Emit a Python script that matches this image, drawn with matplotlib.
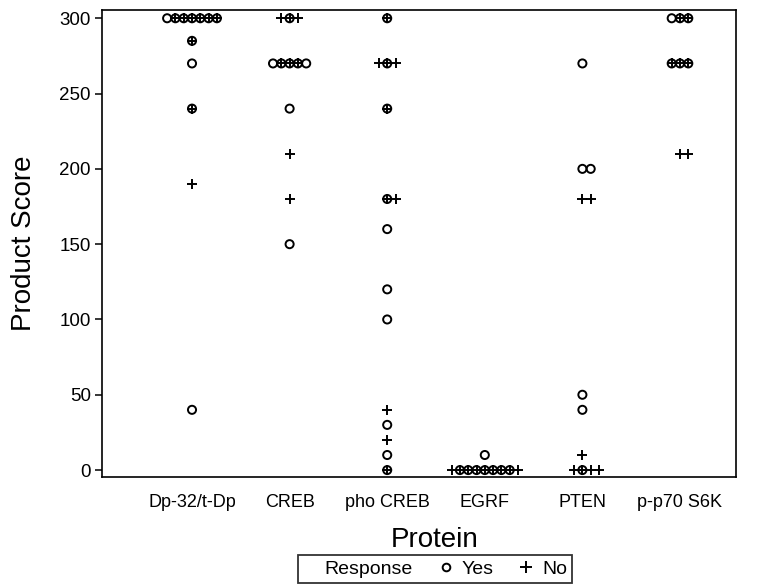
import matplotlib.pyplot as plt
from matplotlib.lines import Line2D

plt.rcParams['font.family'] = ['Liberation Sans', 'DejaVu Sans']

proteins = ["Dp-32/t-Dp", "CREB", "pho CREB", "EGRF", "PTEN", "p-p70 S6K"]

# product scores of the "Yes" responders, per protein
yes_dp32 = [300, 300, 300, 300, 300, 300, 300, 285, 270, 240, 40]
yes_creb = [300, 270, 270, 270, 270, 270, 240, 150]
yes_phocreb = [300, 270, 240, 180, 160, 120, 100, 30, 10, 0]
yes_egrf = [10, 0, 0, 0, 0, 0, 0, 0]
yes_pten = [270, 200, 200, 50, 40, 0]
yes_p70 = [300, 300, 300, 270, 270, 270]

# product scores of the "No" responders, per protein
no_dp32 = [300, 300, 300, 300, 300, 300, 285, 240, 190]
no_creb = [300, 300, 300, 270, 270, 270, 210, 180]
no_phocreb = [300, 270, 270, 270, 240, 180, 180, 40, 20, 0]
no_egrf = [0, 0, 0, 0, 0, 0, 0, 0, 0]
no_pten = [180, 180, 10, 0, 0, 0, 0]
no_p70 = [300, 300, 270, 270, 270, 210, 210]

yes_all = [yes_dp32, yes_creb, yes_phocreb, yes_egrf, yes_pten, yes_p70]
no_all = [no_dp32, no_creb, no_phocreb, no_egrf, no_pten, no_p70]


def spread(scores, step=0.085):
    # tied values get pushed sideways: 0, +1, -1, +2, -2 ...
    seen = {}
    offs = []
    for s in scores:
        k = seen.get(s, 0)
        seen[s] = k + 1
        m = (k + 1) // 2
        offs.append(m * step if k % 2 == 1 else -m * step)
    return offs


fig = plt.figure(figsize=(7.58, 5.87), dpi=100)
ax = fig.add_axes([0.1346, 0.1874, 0.8364, 0.7956])

for i, (ys, ns) in enumerate(zip(yes_all, no_all)):
    ax.scatter([i + o for o in spread(ys)], ys, s=34, marker='o',
               facecolors='none', edgecolors='black', linewidths=1.4, zorder=3)
    ax.scatter([i + o for o in spread(ns)], ns, s=55, marker='+',
               color='black', linewidths=1.4, zorder=4)

ax.set_xlim(-0.922, 5.574)
ax.set_ylim(-4.6, 305.5)
ax.set_xticks(range(len(proteins)))
ax.set_xticklabels(proteins, fontsize=13)
ax.set_yticks([0, 50, 100, 150, 200, 250, 300])
ax.tick_params(axis='y', length=5, width=1.1, labelsize=13.5, pad=3)
ax.tick_params(axis='x', length=0, pad=12)
for sp in ax.spines.values():
    sp.set_linewidth(1.2)

ax.set_ylabel('Product Score', fontsize=20)
ax.yaxis.set_label_coords(-0.102, 0.5)
fig.text(435 / 758, 1 - 540 / 587, 'Protein', ha='center', va='center', fontsize=20)

handles = [Line2D([], [], linestyle='none'),
           Line2D([], [], linestyle='none', marker='o', markersize=5.5,
                  markerfacecolor='none', markeredgecolor='black', markeredgewidth=1.4),
           Line2D([], [], linestyle='none', marker='+', markersize=8,
                  color='black', markeredgewidth=1.4)]
leg = fig.legend(handles, ['Response', 'Yes', 'No'], loc='center',
                 bbox_to_anchor=(435 / 758, 1 - 569 / 587), ncol=3, fontsize=14,
                 frameon=True, fancybox=False, edgecolor='black',
                 handlelength=0.6, handletextpad=0.5, columnspacing=1.4,
                 borderpad=0.25)
leg.get_frame().set_linewidth(1.3)

fig.savefig('out.png', dpi=100)
